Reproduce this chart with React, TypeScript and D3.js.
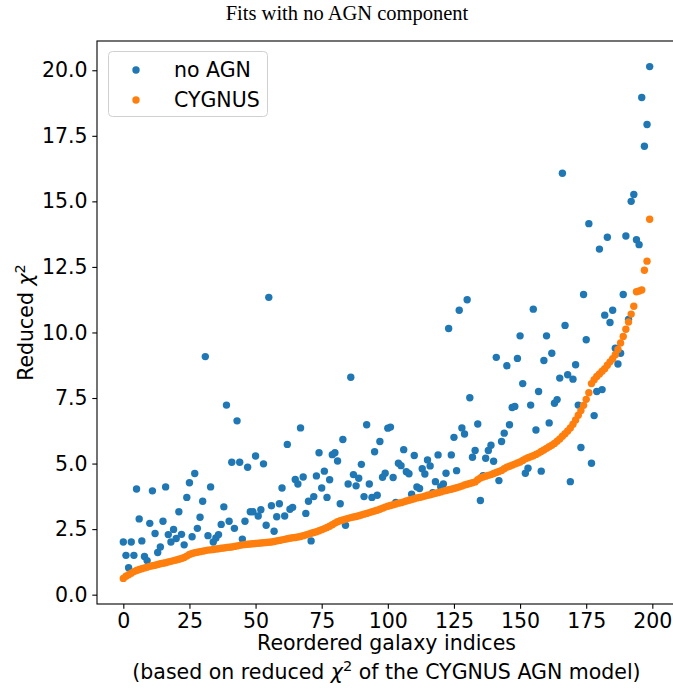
import React, { useRef, useEffect } from 'react';
import * as d3 from 'd3';

// reduced chi2 per galaxy, galaxies ordered by the CYGNUS value
const noAgn = [
  2.01, 1.50, 1.03, 2.01, 1.50, 4.03, 2.89, 2.05, 1.46, 1.30,
  2.72, 3.96, 2.33, 1.61, 1.82, 2.80, 4.11, 2.29, 2.01, 2.49,
  2.14, 3.16, 2.30, 1.90, 3.71, 4.27, 2.21, 4.62, 2.53, 2.95,
  3.56, 9.08, 2.25, 4.11, 2.01, 2.16, 2.29, 2.68, 3.35, 7.23,
  2.80, 5.05, 2.53, 6.63, 5.05, 2.12, 2.80, 4.86, 3.16,
  3.16, 5.29, 3.00, 3.24, 4.99, 2.65, 11.34, 3.39, 2.42, 2.97,
  3.47, 4.07, 3.00, 5.73, 3.26, 3.33, 4.39, 4.22, 6.36, 4.49,
  3.10, 3.56, 2.05, 3.74, 4.53, 5.41, 4.07, 4.71, 3.71, 4.38,
  5.34, 5.41, 5.10, 3.47, 5.92, 2.65, 4.22, 8.29, 4.58, 4.15,
  4.44, 4.97, 3.74, 6.48, 4.22, 3.71, 5.45, 3.79, 5.84, 4.48,
  4.63, 6.35, 6.39,
  4.47, 3.52, 5.01, 4.92, 5.53, 4.69, 4.61, 3.83, 5.31, 4.11,
  4.05, 4.80, 4.60, 5.14, 4.91, 3.89, 4.31, 5.33, 4.12, 4.22,
  4.63, 10.15, 5.33, 6.00, 4.73, 10.85, 6.36, 6.13, 11.25, 7.51,
  5.24, 5.50, 6.51, 3.59, 4.54, 5.20, 5.50, 5.70, 5.09, 9.05,
  4.35, 5.84, 6.16, 8.73, 6.48, 7.14, 7.18, 9.01, 9.87, 8.05,
  4.63, 4.82, 7.23, 10.89,
  6.28, 7.75, 4.71, 8.93, 9.87, 6.55, 9.21, 7.30, 7.44, 8.26,
  16.07, 10.27, 8.39, 4.31, 8.22, 8.77, 7.23, 5.61, 11.45, 9.72,
  14.15, 5.01, 6.83, 7.75, 13.18, 7.82, 10.66, 13.63, 10.38, 10.85,
  9.40, 8.80, 9.21, 11.45, 13.68, 10.50, 15.00, 15.26, 13.54, 13.35,
  18.96, 17.10, 17.93, 20.14,
];

const cygnus = [
  0.62, 0.70, 0.76, 0.82, 0.88, 0.92, 0.96, 0.99, 1.02, 1.05,
  1.08, 1.10, 1.12, 1.15, 1.18, 1.20, 1.22, 1.25, 1.27, 1.30,
  1.32, 1.35, 1.38, 1.42, 1.47, 1.53, 1.57, 1.60, 1.62, 1.64,
  1.66, 1.68, 1.70, 1.71, 1.72, 1.74, 1.75, 1.77, 1.78, 1.80,
  1.81, 1.82, 1.84, 1.86, 1.88, 1.90, 1.91, 1.92, 1.93, 1.94,
  1.95, 1.96, 1.97, 1.98, 1.99, 2.00, 2.01, 2.03, 2.05, 2.07,
  2.09, 2.11, 2.13, 2.15, 2.17, 2.18, 2.20, 2.22, 2.25, 2.28,
  2.31, 2.34, 2.37, 2.40, 2.44, 2.48, 2.52, 2.56, 2.61, 2.67,
  2.73, 2.78, 2.82, 2.85, 2.88, 2.91, 2.94, 2.96, 2.98, 3.01,
  3.04, 3.07, 3.10, 3.13, 3.16, 3.19, 3.22, 3.26, 3.30, 3.34,
  3.37, 3.40, 3.43, 3.46, 3.49, 3.51, 3.54, 3.57, 3.60, 3.63,
  3.66, 3.69, 3.71, 3.73, 3.76, 3.79, 3.81, 3.84, 3.87, 3.89,
  3.92, 3.95, 3.97, 4.00, 4.02, 4.05, 4.08, 4.11, 4.14, 4.18,
  4.21, 4.24, 4.27, 4.30, 4.38, 4.45, 4.49, 4.52, 4.55, 4.58,
  4.62, 4.66, 4.70, 4.74, 4.80, 4.86, 4.90, 4.94, 4.98, 5.02,
  5.06, 5.12, 5.18, 5.22, 5.26, 5.30, 5.35, 5.40, 5.46, 5.52,
  5.58, 5.64, 5.70, 5.77, 5.85, 5.94, 6.04, 6.14, 6.24, 6.36,
  6.50, 6.66, 6.84, 7.02, 7.22, 7.45, 7.70, 8.05, 8.20, 8.32,
  8.42, 8.52, 8.62, 8.75, 8.88, 9.00, 9.15, 9.35, 9.60, 9.85,
  10.12, 10.40, 10.70, 11.00, 11.55, 11.58, 11.62, 12.37, 12.72, 14.32,
];

const xTicks = [0, 25, 50, 75, 100, 125, 150, 175, 200];
const yTicks = [0, 2.5, 5, 7.5, 10, 12.5, 15, 17.5, 20];
const seriesNames = ['no AGN', 'CYGNUS'];
const seriesColors = ['#1f77b4', '#ff7f0e'];

const FONT = 'DejaVu Sans';
const FS = 20.5;
const R = 3.7;

const App = () => {
  const svgRef = useRef<SVGSVGElement>(null);

  useEffect(() => {
    const svg = d3.select(svgRef.current);
    svg.selectAll('*').remove();

    const left = 97, right = 676, top = 41, bottom = 604;
    const n = noAgn.length;

    // matplotlib style 5% margins
    const x = d3.scaleLinear()
      .domain([-0.05 * (n - 1), 1.05 * (n - 1)])
      .range([left, right]);

    const [lo, hi] = d3.extent([...noAgn, ...cygnus]) as [number, number];
    const pad = (hi - lo) * 0.05;
    const y = d3.scaleLinear()
      .domain([lo - pad, hi + pad])
      .range([bottom, top]);

    // title
    svg.append('text')
      .attr('x', 347)
      .attr('y', 20)
      .attr('text-anchor', 'middle')
      .attr('font-family', 'Liberation Serif')
      .attr('font-size', 20.5)
      .text('Fits with no AGN component');

    // points
    const series = [noAgn, cygnus];
    series.forEach((vals, s) => {
      svg.append('g')
        .selectAll('circle')
        .data(vals)
        .join('circle')
        .attr('cx', (d, i) => x(i))
        .attr('cy', d => y(d))
        .attr('r', R)
        .attr('fill', seriesColors[s]);
    });

    // axes
    const xAxis = svg.append('g')
      .attr('transform', `translate(0,${bottom})`)
      .call(d3.axisBottom(x).tickValues(xTicks).tickSize(4.7).tickPadding(4.7).tickFormat(d3.format('d')));
    const yAxis = svg.append('g')
      .attr('transform', `translate(${left},0)`)
      .call(d3.axisLeft(y).tickValues(yTicks).tickSize(4.7).tickPadding(4.7).tickFormat(d3.format('.1f')));

    [xAxis, yAxis].forEach(ax => {
      ax.select('.domain').remove();
      ax.attr('font-family', FONT).attr('font-size', FS);
      ax.selectAll('line').attr('stroke', '#000').attr('stroke-width', 1.1);
      ax.selectAll('text').attr('fill', '#000');
    });

    // frame
    svg.append('rect')
      .attr('x', left)
      .attr('y', top)
      .attr('width', right - left)
      .attr('height', bottom - top)
      .attr('fill', 'none')
      .attr('stroke', '#000')
      .attr('stroke-width', 1.1);

    // y label
    const yl = svg.append('text')
      .attr('transform', `translate(33,${(top + bottom) / 2}) rotate(-90)`)
      .attr('text-anchor', 'middle')
      .attr('font-family', FONT)
      .attr('font-size', FS);
    yl.append('tspan').text('Reduced ');
    yl.append('tspan').attr('font-style', 'italic').text('χ');
    yl.append('tspan').attr('font-size', 14.5).attr('dy', -8).text('2');

    // x label (two lines)
    const cx = (left + right) / 2;
    svg.append('text')
      .attr('x', cx)
      .attr('y', 650)
      .attr('text-anchor', 'middle')
      .attr('font-family', FONT)
      .attr('font-size', FS)
      .text('Reordered galaxy indices');
    const l2 = svg.append('text')
      .attr('x', cx)
      .attr('y', 679)
      .attr('text-anchor', 'middle')
      .attr('font-family', FONT)
      .attr('font-size', FS);
    l2.append('tspan').text('(based on reduced ');
    l2.append('tspan').attr('font-style', 'italic').text('χ');
    l2.append('tspan').attr('font-size', 14.5).attr('dy', -8).text('2');
    l2.append('tspan').attr('dy', 8).text(' of the CYGNUS AGN model)');

    // legend
    const lg = svg.append('g');
    lg.append('rect')
      .attr('x', 108.5)
      .attr('y', 51.5)
      .attr('width', 159)
      .attr('height', 65)
      .attr('rx', 4)
      .attr('fill', '#fff')
      .attr('fill-opacity', 0.8)
      .attr('stroke', '#d0d0d0');
    seriesNames.forEach((name, i) => {
      const ly = 70 + i * 30;
      lg.append('circle')
        .attr('cx', 136)
        .attr('cy', ly)
        .attr('r', R)
        .attr('fill', seriesColors[i]);
      lg.append('text')
        .attr('x', 174)
        .attr('y', ly + 7.4)
        .attr('font-family', FONT)
        .attr('font-size', FS)
        .attr('fill', '#000')
        .text(name);
    });
  }, []);

  return (
    <svg ref={svgRef} width="673" height="689"
      style={{ position: 'absolute', left: 0, top: 0, background: '#fff' }} />
  );
};

export default App;
